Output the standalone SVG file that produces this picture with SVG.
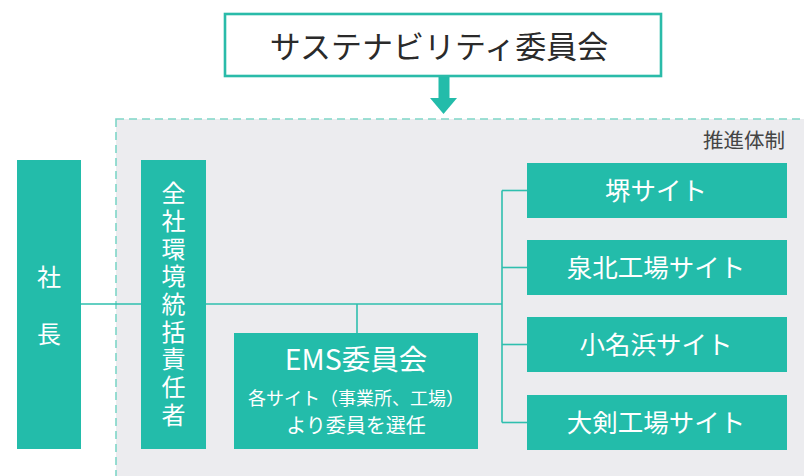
<svg xmlns="http://www.w3.org/2000/svg" width="804" height="476" viewBox="0 0 804 476">
<defs>
<style>
.box{fill:#23bcaa;}
.wt{fill:#ffffff;font-family:"Noto Sans CJK JP","Noto Sans",sans-serif;text-anchor:middle;}
.conn{stroke:#2fbfae;stroke-width:1.6;fill:none;}
</style>
</defs>
<rect x="0" y="0" width="804" height="476" fill="#ffffff"/>
<g id="region">
<rect x="116" y="119" width="700" height="370" fill="#ececef" stroke="#7fd6c8" stroke-width="1.6" stroke-dasharray="8,5"/>
<text x="785" y="148" font-family="'Noto Sans CJK JP','Noto Sans',sans-serif" font-size="20.5" fill="#444" text-anchor="end">推進体制</text>
</g>
<g id="committee">
<rect x="225" y="14" width="436" height="62" fill="#ffffff" stroke="#2abba9" stroke-width="2.6"/>
<text x="439" y="58" font-family="'Noto Sans CJK JP','Noto Sans',sans-serif" font-size="31" fill="#2a2a2a" text-anchor="middle">サステナビリティ委員会</text>
</g>
<g id="arrow">
<rect x="438.5" y="77" width="11" height="22" fill="#23bcaa"/>
<polygon points="430,98 457,98 443.5,114" fill="#23bcaa"/>
</g>
<g id="connectors">
<line class="conn" x1="81" y1="304" x2="141" y2="304"/>
<line class="conn" x1="206" y1="304" x2="502" y2="304"/>
<line class="conn" x1="357" y1="304" x2="357" y2="333"/>
<line class="conn" x1="502" y1="190.5" x2="502" y2="422.5"/>
<line class="conn" x1="502" y1="190.5" x2="527" y2="190.5"/>
<line class="conn" x1="502" y1="267.5" x2="527" y2="267.5"/>
<line class="conn" x1="502" y1="344.5" x2="527" y2="344.5"/>
<line class="conn" x1="502" y1="422.5" x2="527" y2="422.5"/>
</g>
<g id="president">
<rect class="box" x="17" y="160" width="64" height="289"/>
<text class="wt" x="49" y="286" font-size="24">社</text>
<text class="wt" x="49" y="343" font-size="24">長</text>
</g>
<g id="manager">
<rect class="box" x="141" y="160" width="65" height="289"/>
<text x="173.5" y="181" font-family="'Noto Sans CJK JP','Noto Sans',sans-serif" font-size="24" fill="#ffffff" writing-mode="vertical-rl" letter-spacing="3.7">全社環境統括責任者</text>
</g>
<g id="ems">
<rect class="box" x="234" y="333" width="244" height="116"/>
<text class="wt" x="356" y="370" font-size="28.5">EMS委員会</text>
<text class="wt" x="356" y="405" font-size="18">各サイト（事業所、工場）</text>
<text class="wt" x="356" y="433" font-size="20">より委員を選任</text>
</g>
<g id="site-sakai">
<rect class="box" x="527" y="163" width="260" height="55"/>
<text class="wt" x="656" y="199.5" font-size="25.5">堺サイト</text>
</g>
<g id="site-senboku">
<rect class="box" x="527" y="240" width="260" height="55"/>
<text class="wt" x="656" y="276.5" font-size="25.5">泉北工場サイト</text>
</g>
<g id="site-onahama">
<rect class="box" x="527" y="317" width="260" height="55"/>
<text class="wt" x="656" y="353.5" font-size="25.5">小名浜サイト</text>
</g>
<g id="site-ohtsurugi">
<rect class="box" x="527" y="395" width="260" height="55"/>
<text class="wt" x="656" y="431.5" font-size="25.5">大剣工場サイト</text>
</g>
</svg>
